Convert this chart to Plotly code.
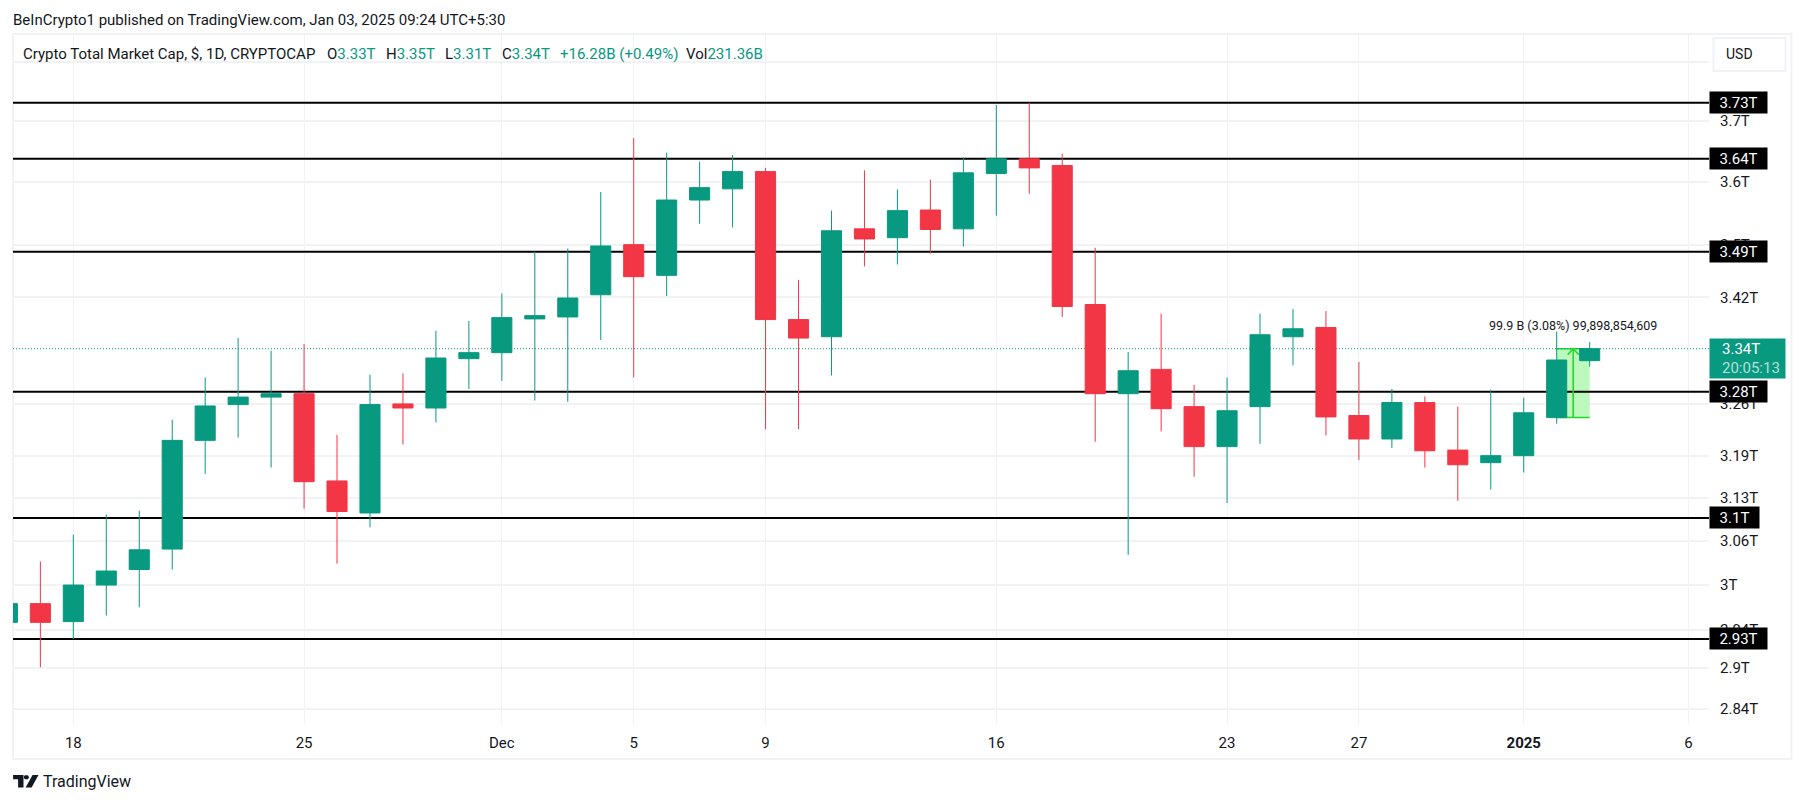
import numpy as np
import pandas as pd
import plotly.graph_objects as go

# candles, values in trillions
dates = pd.date_range("2024-11-16", "2025-01-03", freq="D")
opens = [2.953, 2.978, 2.954, 3.003, 3.024, 3.052, 3.205, 3.257, 3.268, 3.273, 3.147, 3.102, 3.258, 3.252, 3.325,
         3.334, 3.385, 3.388, 3.422, 3.500, 3.452, 3.571, 3.589, 3.617, 3.384, 3.358, 3.525, 3.511, 3.555, 3.525,
         3.614, 3.638, 3.627, 3.407, 3.273, 3.309, 3.254, 3.196, 3.254, 3.358, 3.372, 3.241, 3.207, 3.260, 3.191,
         3.173, 3.183, 3.238, 3.322]
highs = [2.985, 3.035, 3.072, 3.100, 3.105, 3.235, 3.297, 3.356, 3.337, 3.347, 3.213, 3.301, 3.303, 3.367, 3.382,
         3.424, 3.489, 3.494, 3.584, 3.672, 3.648, 3.633, 3.644, 3.623, 3.445, 3.554, 3.619, 3.588, 3.604, 3.640,
         3.727, 3.731, 3.646, 3.495, 3.335, 3.393, 3.286, 3.297, 3.393, 3.400, 3.397, 3.320, 3.280, 3.269, 3.254,
         3.279, 3.267, 3.366, 3.350]
lows = [2.945, 2.894, 2.931, 2.962, 2.973, 3.024, 3.157, 3.209, 3.166, 3.108, 3.032, 3.082, 3.199, 3.231, 3.280,
        3.292, 3.263, 3.261, 3.353, 3.297, 3.420, 3.533, 3.527, 3.221, 3.221, 3.300, 3.466, 3.469, 3.486, 3.497,
        3.546, 3.581, 3.388, 3.203, 3.044, 3.218, 3.153, 3.116, 3.200, 3.315, 3.212, 3.177, 3.194, 3.166, 3.119,
        3.135, 3.159, 3.229, 3.313]
closes = [2.978, 2.953, 3.003, 3.022, 3.051, 3.205, 3.255, 3.268, 3.273, 3.146, 3.104, 3.257, 3.252, 3.326, 3.334,
          3.387, 3.390, 3.417, 3.498, 3.450, 3.571, 3.591, 3.617, 3.384, 3.356, 3.522, 3.509, 3.554, 3.524, 3.615,
          3.638, 3.623, 3.404, 3.273, 3.307, 3.251, 3.196, 3.248, 3.361, 3.370, 3.239, 3.207, 3.260, 3.190, 3.170,
          3.183, 3.245, 3.323, 3.340]

levels = [3.7306, 3.638, 3.489, 3.276, 3.095, 2.931]
level_labels = ["3.73T", "3.64T", "3.49T", "3.28T", "3.1T", "2.93T"]
last_price = 3.34
range_low = 3.238

y_ticks = [3.8, 3.7, 3.6, 3.5, 3.418, 3.258, 3.183, 3.123, 3.063, 3.003, 2.943, 2.893, 2.84]
y_labels = ["", "3.7T", "3.6T", "3.5T", "3.42T", "3.26T", "3.19T", "3.13T", "3.06T", "3T", "2.94T", "2.9T", "2.84T"]
x_ticks = ["2024-11-18", "2024-11-25", "2024-12-01", "2024-12-05", "2024-12-09", "2024-12-16", "2024-12-23",
           "2024-12-27", "2025-01-01", "2025-01-06"]
x_labels = ["18", "25", "Dec", "5", "9", "16", "23", "27", "<b>2025</b>", "6"]
x_start, x_end = "2024-11-16 04:05", "2025-01-06 14:53"

GREEN = "#089981"
RED = "#f23645"
GRID = "#f1f2f5"
TEXT = "#131722"
FONT = "Roboto"
MEASURE = "#22d62a"

# plot area in page pixels
LEFT, RIGHT, TOP, BOTTOM = 13.2, 1709.5, 34, 724


def px(x):
    return (x - LEFT) / (RIGHT - LEFT)


def py(y):
    return (BOTTOM - y) / (BOTTOM - TOP)


def note(x, y, text, size=15, color=TEXT):
    fig.add_annotation(xref="paper", yref="paper", x=px(x), y=py(y), text=text, showarrow=False,
                       xanchor="left", yanchor="middle", font=dict(family=FONT, size=size, color=color))


def logo_part(points):
    path = "M " + " L ".join(f"{px(a):.5f},{py(b):.5f}" for a, b in points) + " Z"
    fig.add_shape(type="path", xref="paper", yref="paper", path=path, fillcolor=TEXT, line_width=0)


fig = go.Figure()
fig.add_trace(go.Candlestick(
    x=dates, open=opens, high=highs, low=lows, close=closes,
    increasing=dict(line=dict(color=GREEN, width=1), fillcolor=GREEN),
    decreasing=dict(line=dict(color=RED, width=1), fillcolor=RED),
    whiskerwidth=0,
))

# measure tool on the last two candles
fig.add_shape(type="rect", xref="x", yref="y", x0=dates[-2], x1=dates[-1], y0=range_low, y1=last_price,
              fillcolor="#bdf9bd", line_width=0, layer="between")
fig.add_shape(type="line", xref="x", yref="y", x0=dates[-2], x1=dates[-1], y0=range_low, y1=range_low,
              line=dict(color=MEASURE, width=1.5), layer="between")
fig.add_shape(type="line", xref="x", yref="y", x0=dates[-2], x1=dates[-1], y0=last_price, y1=last_price,
              line=dict(color=MEASURE, width=1.5), layer="between")
mid = dates[-2] + pd.Timedelta(hours=12)
head = pd.Timedelta(hours=4)
fig.add_trace(go.Scatter(x=[mid, mid], y=[range_low, last_price], mode="lines",
                         line=dict(color=MEASURE, width=1.5), hoverinfo="skip"))
fig.add_trace(go.Scatter(x=[mid - head, mid, mid + head], y=[3.331, last_price, 3.331], mode="lines",
                         line=dict(color=MEASURE, width=1.5), hoverinfo="skip"))
fig.add_annotation(x=mid, y=np.log10(3.375), text="99.9 B (3.08%) 99,898,854,609", showarrow=False,
                   font=dict(family=FONT, size=12.5, color=TEXT))

# horizontal levels and their price tags
fig.add_shape(type="line", xref="x", yref="y", x0=x_start, x1=x_end, y0=last_price, y1=last_price,
              line=dict(color=GREEN, width=1, dash="1px,2px"), layer="between")
for level, label in zip(levels, level_labels):
    fig.add_shape(type="line", xref="x", yref="y", x0=x_start, x1=x_end, y0=level, y1=level,
                  line=dict(color="black", width=2), layer="between")
    fig.add_annotation(xref="paper", x=1, xanchor="left", y=np.log10(level), text=label,
                       showarrow=False, width=49 if label == "3.1T" else 57, height=21, bgcolor="black",
                       borderpad=0, font=dict(family=FONT, size=15, color="white"))

# last price tag
fig.add_annotation(xref="paper", x=1, xanchor="left", y=np.log10(last_price), yanchor="middle", yshift=-9.5, text=" ",
                   showarrow=False, width=75, height=39, bgcolor=GREEN, borderpad=0)
note(1721, 349, "3.34T", color="white")
note(1721, 368, "20:05:13", color="#b5e0d9")

# frame around the chart and the currency button
fig.add_shape(type="rect", xref="paper", yref="paper", x0=0, x1=px(1792), y0=py(759), y1=1,
              line=dict(color=GRID, width=2), layer="below")
fig.add_shape(type="rect", xref="paper", yref="paper", x0=px(1714), x1=px(1786), y0=py(71), y1=py(38),
              line=dict(color=GRID, width=2), fillcolor="white")
note(1725, 54, "USD", size=14)

note(11, 20, "BeInCrypto1 published on TradingView.com, Jan 03, 2025 09:24 UTC+5:30")
note(21, 54, "Crypto Total Market Cap, $, 1D, CRYPTOCAP")
note(325, 54, f"O<span style='color:{GREEN}'>3.33T</span>")
note(384, 54, f"H<span style='color:{GREEN}'>3.35T</span>")
note(443, 54, f"L<span style='color:{GREEN}'>3.31T</span>")
note(500, 54, f"C<span style='color:{GREEN}'>3.34T</span>")
note(558, 54, "+16.28B (+0.49%)", color=GREEN)
note(684, 54, f"Vol<span style='color:{GREEN}'>231.36B</span>")

# TradingView logo and wordmark
logo_part([(13.3, 775), (23.7, 775), (23.7, 787.5), (18.3, 787.5), (18.3, 779.3), (13.3, 779.3)])
logo_part([(25, 775.3), (28, 775.3), (29, 776.5), (29, 778), (28, 779.3), (25, 779.3), (24.2, 778), (24.2, 776.5)])
logo_part([(32.8, 775), (38.7, 775), (31.8, 787.5), (25.8, 787.5)])
note(41, 781, "TradingView", size=16)

fig.update_layout(
    width=1804, height=803,
    margin=dict(l=LEFT, r=1804 - RIGHT, t=TOP, b=803 - BOTTOM),
    paper_bgcolor="white", plot_bgcolor="white",
    showlegend=False, boxgap=0.13,
    font=dict(family=FONT, size=15, color=TEXT),
    xaxis=dict(type="date", range=[x_start, x_end], rangeslider=dict(visible=False),
               tickvals=x_ticks, ticktext=x_labels, tickangle=0, ticks="", ticklabelstandoff=8,
               showgrid=True, gridcolor=GRID, gridwidth=1, showline=False, zeroline=False),
    yaxis=dict(type="log", range=[np.log10(2.821), np.log10(3.848)], side="right",
               tickvals=y_ticks, ticktext=y_labels, ticks="", ticklabelstandoff=10,
               showgrid=True, gridcolor=GRID, gridwidth=1.5, showline=False, zeroline=False),
)

fig.write_html("out.html", config=dict(displayModeBar=False),
               post_script="document.body.style.margin='0';document.body.style.overflow='hidden';")
